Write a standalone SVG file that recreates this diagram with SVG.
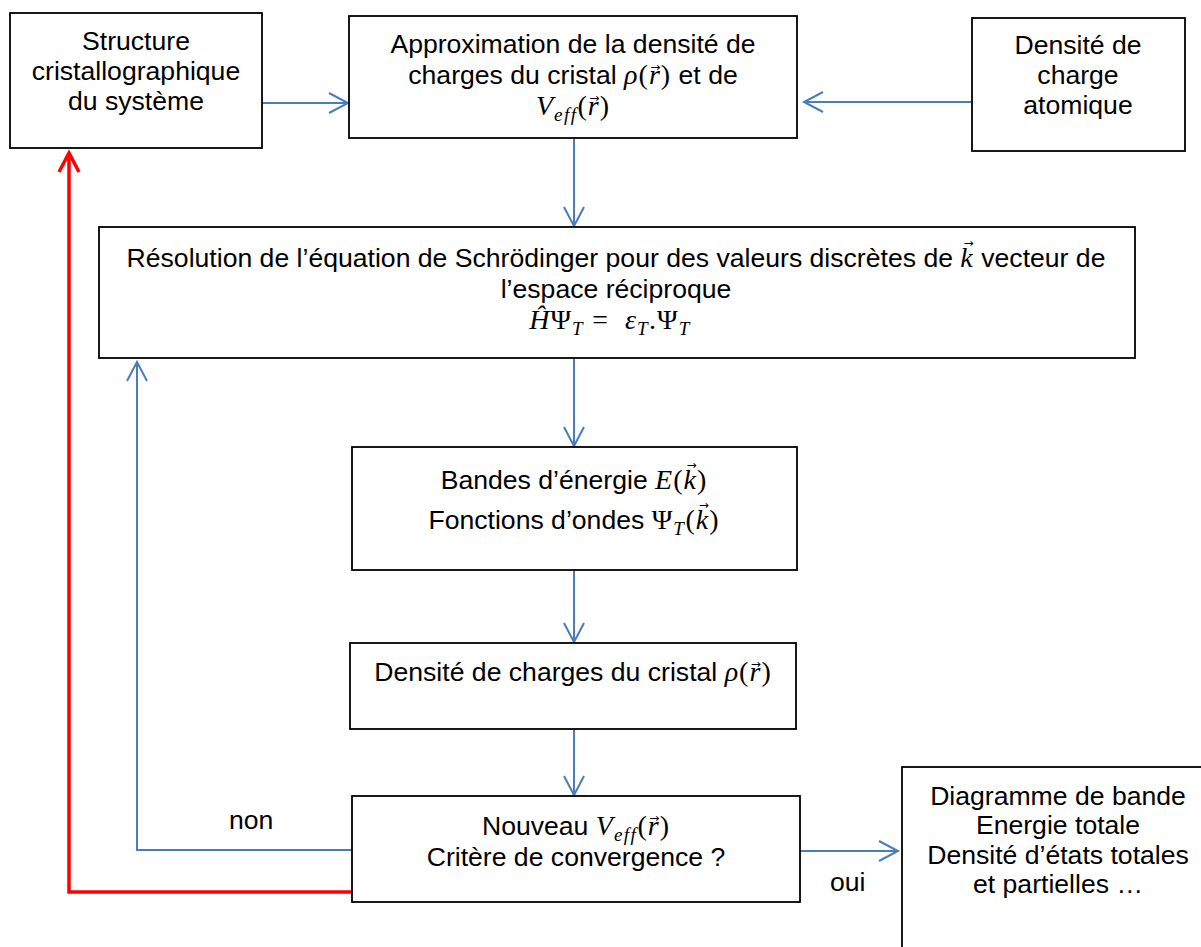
<svg xmlns="http://www.w3.org/2000/svg" width="1201" height="947" viewBox="0 0 1201 947">
<defs>
<style>
.box{fill:#fff;stroke:#000;stroke-width:1.8}
.t{font-family:"Liberation Sans",Arial,sans-serif;font-size:26.6px;fill:#000;text-anchor:middle}
.l{font-family:"Liberation Sans",Arial,sans-serif;font-size:26.6px;fill:#000}
.m{font-family:"Liberation Serif","Times New Roman",serif;font-style:italic;font-size:28px;letter-spacing:1px}
.u{font-family:"Liberation Serif","Times New Roman",serif;font-style:normal;font-size:28px;letter-spacing:1px}
.s{font-family:"Liberation Serif","Times New Roman",serif;font-style:italic;font-size:19px;letter-spacing:1.5px;font-variant-ligatures:none}
.v{font-family:"DejaVu Sans",sans-serif;font-style:normal;font-size:12px;letter-spacing:0}
.c{stroke:#4A7EBB;stroke-width:2;fill:none}
.r{stroke:#FF0000;stroke-width:3.5;fill:none}
</style>
<marker id="ab" markerUnits="userSpaceOnUse" viewBox="0 0 24 24" refX="21" refY="12" markerWidth="24" markerHeight="24" orient="auto">
<path d="M2,2 L21,12 L2,22" fill="none" stroke="#4A7EBB" stroke-width="2"/>
</marker>
<marker id="ar" markerUnits="userSpaceOnUse" viewBox="0 0 26 26" refX="22" refY="13" markerWidth="26" markerHeight="26" orient="auto">
<path d="M3,3 L22,13 L3,23" fill="none" stroke="#FF0000" stroke-width="3.5"/>
</marker>
</defs>
<rect width="1201" height="947" fill="#fff"/>

<g id="connectors">
<line class="c" x1="262" y1="103" x2="348" y2="103" marker-end="url(#ab)"/>
<line class="c" x1="972" y1="102" x2="804" y2="102" marker-end="url(#ab)"/>
<line class="c" x1="574" y1="138" x2="574" y2="226" marker-end="url(#ab)"/>
<line class="c" x1="574" y1="358" x2="574" y2="446" marker-end="url(#ab)"/>
<line class="c" x1="574" y1="570" x2="574" y2="642" marker-end="url(#ab)"/>
<line class="c" x1="574" y1="729" x2="574" y2="795" marker-end="url(#ab)"/>
<polyline class="c" points="352,850 137,850 137,362" marker-end="url(#ab)"/>
<line class="c" x1="800" y1="851" x2="898" y2="851" marker-end="url(#ab)"/>
<polyline class="r" points="352,892 69,892 69,153" marker-end="url(#ar)"/>
<text class="l" x="229" y="829">non</text>
<text class="l" x="830" y="891">oui</text>
</g>

<g id="n-structure">
<rect class="box" x="10" y="13" width="252" height="135"/>
<text class="t" x="136" y="50">Structure</text>
<text class="t" x="136" y="80">cristallographique</text>
<text class="t" x="136" y="110">du système</text>
</g>

<g id="n-approx">
<rect class="box" x="349" y="16" width="448" height="122"/>
<text class="t" x="573" y="53">Approximation de la densité de</text>
<text class="t" x="573" y="84">charges du cristal <tspan class="m">ρ</tspan><tspan class="u">(</tspan><tspan class="m">r</tspan><tspan class="v" dx="-10.5" dy="-13">→</tspan><tspan class="u" dx="0.5" dy="13">)</tspan> et de</text>
<text class="t" x="573" y="115"><tspan class="m">V</tspan><tspan class="s" dy="6">eff</tspan><tspan class="u" dy="-6">(</tspan><tspan class="m">r</tspan><tspan class="v" dx="-10.5" dy="-13">→</tspan><tspan class="u" dx="0.5" dy="13">)</tspan></text>
</g>

<g id="n-atomique">
<rect class="box" x="972" y="18" width="213" height="133"/>
<text class="t" x="1078" y="54">Densité de</text>
<text class="t" x="1078" y="84">charge</text>
<text class="t" x="1078" y="114">atomique</text>
</g>

<g id="n-schrodinger">
<rect class="box" x="99" y="227" width="1036" height="131"/>
<text class="t" x="616" y="267">Résolution de l’équation de Schrödinger pour des valeurs discrètes de <tspan class="m">k</tspan><tspan class="v" dx="-10.4" dy="-20">→</tspan><tspan dx="0.4" dy="20"> vecteur de</tspan></text>
<text class="t" x="616" y="298">l’espace réciproque</text>
<text class="t" x="610" y="329"><tspan class="m">Ĥ</tspan><tspan class="u">Ψ</tspan><tspan class="s" dy="6">T</tspan><tspan class="u" dx="8" dy="-6">=</tspan><tspan class="m" dx="16">ε</tspan><tspan class="s" dy="6">T</tspan><tspan class="u" dy="-6">.</tspan><tspan class="u">Ψ</tspan><tspan class="s" dy="6">T</tspan></text>
</g>

<g id="n-bandes">
<rect class="box" x="352" y="447" width="445" height="123"/>
<text class="t" x="574" y="489">Bandes d’énergie <tspan class="m">E</tspan><tspan class="u" font-size="32">(</tspan><tspan class="m">k</tspan><tspan class="v" dx="-10.4" dy="-20">→</tspan><tspan class="u" font-size="32" dx="0.4" dy="20">)</tspan></text>
<text class="t" x="574" y="529">Fonctions d’ondes <tspan class="u">Ψ</tspan><tspan class="s" dy="6">T</tspan><tspan class="u" font-size="32" dy="-6">(</tspan><tspan class="m">k</tspan><tspan class="v" dx="-10.4" dy="-20">→</tspan><tspan class="u" font-size="32" dx="0.4" dy="20">)</tspan></text>
</g>

<g id="n-densite">
<rect class="box" x="350" y="643" width="446" height="86"/>
<text class="t" x="573" y="681">Densité de charges du cristal <tspan class="m">ρ</tspan><tspan class="u">(</tspan><tspan class="m">r</tspan><tspan class="v" dx="-10.5" dy="-13">→</tspan><tspan class="u" dx="0.5" dy="13">)</tspan></text>
</g>

<g id="n-convergence">
<rect class="box" x="352" y="796" width="448" height="106"/>
<text class="t" x="576" y="835">Nouveau <tspan class="m">V</tspan><tspan class="s" dy="6">eff</tspan><tspan class="u" dy="-6">(</tspan><tspan class="m">r</tspan><tspan class="v" dx="-10.5" dy="-13">→</tspan><tspan class="u" dx="0.5" dy="13">)</tspan></text>
<text class="t" x="576" y="866">Critère de convergence ?</text>
</g>

<g id="n-resultats">
<rect class="box" x="902" y="767" width="320" height="200"/>
<text class="t" x="1058" y="805">Diagramme de bande</text>
<text class="t" x="1058" y="834">Energie totale</text>
<text class="t" x="1058" y="864">Densité d’états totales</text>
<text class="t" x="1058" y="893">et partielles …</text>
</g>
</svg>
